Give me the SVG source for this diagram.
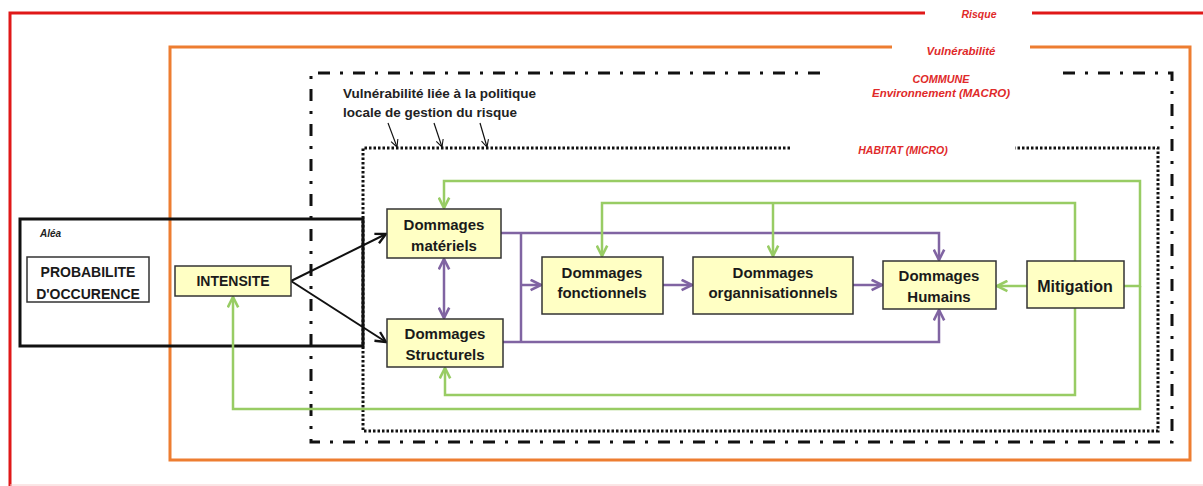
<svg xmlns="http://www.w3.org/2000/svg" width="1203" height="486" viewBox="0 0 1203 486">
<style>
.bx{fill:#ffffc4;stroke:#333;stroke-width:1.5}
.t{font-family:"Liberation Sans",Arial,sans-serif;font-weight:bold;fill:#1a1a1a;text-anchor:middle}
.lab{font-family:"Liberation Sans",Arial,sans-serif;font-weight:bold;font-style:italic;fill:#e02a2a;text-anchor:middle}
.pu{fill:none;stroke:#8064a2;stroke-width:2.5}
.gr{fill:none;stroke:#98cc64;stroke-width:2.5}
.bk{fill:none;stroke:#111;stroke-width:2}
</style>
<defs>
<marker id="ap" viewBox="0 0 10 10" refX="9" refY="5" markerWidth="13" markerHeight="13" markerUnits="userSpaceOnUse" orient="auto-start-reverse"><path d="M1,1 L9,5 L1,9" fill="none" stroke="#8064a2" stroke-width="2"/></marker>
<marker id="ag" viewBox="0 0 10 10" refX="9" refY="5" markerWidth="13" markerHeight="13" markerUnits="userSpaceOnUse" orient="auto"><path d="M1,1 L9,5 L1,9" fill="none" stroke="#98cc64" stroke-width="2"/></marker>
<marker id="ak" viewBox="0 0 10 10" refX="9" refY="5" markerWidth="13" markerHeight="13" markerUnits="userSpaceOnUse" orient="auto"><path d="M1,1 L9,5 L1,9" fill="none" stroke="#111" stroke-width="1.8"/></marker>
<marker id="as" viewBox="0 0 10 10" refX="9" refY="5" markerWidth="9" markerHeight="9" markerUnits="userSpaceOnUse" orient="auto"><path d="M1,1 L9,5 L1,9" fill="none" stroke="#111" stroke-width="1.2"/></marker>
</defs>
<rect width="1203" height="486" fill="#fff"/>
<g id="frames">
<path d="M925,13 H10 V486 M1032,13 H1203" fill="none" stroke="#e01818" stroke-width="3"/>
<line x1="10" y1="485" x2="1203" y2="485" stroke="#f6cccc" stroke-width="1"/>
<path d="M892,47 H170 V460 H1190 V47 H1030" fill="none" stroke="#ed7d31" stroke-width="3"/>
<path d="M820,73 H311 V442 H1172 V73 H1053" fill="none" stroke="#111" stroke-width="3" stroke-dasharray="12 10 3 10"/>
<path d="M790,148 H363 V431 H1158 V148 H1015" fill="none" stroke="#111" stroke-width="3" stroke-dasharray="2.5 2"/>
<rect x="20" y="219" width="343" height="127" fill="none" stroke="#111" stroke-width="3"/>
</g>
<g id="labels">
<text class="lab" x="979" y="18" font-size="10.5">Risque</text>
<text class="lab" x="961" y="55" font-size="11.5">Vulnérabilité</text>
<text class="lab" x="941" y="83" font-size="10.8">COMMUNE</text>
<text class="lab" x="941" y="97" font-size="11.5">Environnement (MACRO)</text>
<text class="lab" x="903" y="154" font-size="10.5">HABITAT  (MICRO)</text>
<text x="40" y="237" font-family="Liberation Sans,Arial,sans-serif" font-weight="bold" font-style="italic" font-size="10" fill="#222">Aléa</text>
<text x="343" y="98" font-family="Liberation Sans,Arial,sans-serif" font-weight="bold" font-size="13.5" fill="#222">Vulnérabilité liée à la politique</text>
<text x="343" y="117" font-family="Liberation Sans,Arial,sans-serif" font-weight="bold" font-size="13.5" fill="#222">locale de gestion du risque</text>
<line x1="388" y1="123" x2="397" y2="147" stroke="#111" stroke-width="1.2" marker-end="url(#as)"/>
<line x1="434" y1="123" x2="442" y2="147" stroke="#111" stroke-width="1.2" marker-end="url(#as)"/>
<line x1="480" y1="123" x2="487" y2="147" stroke="#111" stroke-width="1.2" marker-end="url(#as)"/>
</g>
<g id="connectors">
<line class="bk" x1="291" y1="281" x2="386" y2="234" marker-end="url(#ak)"/>
<line class="bk" x1="291" y1="281" x2="386" y2="342" marker-end="url(#ak)"/>
<path class="pu" d="M501,233 H939 V260" marker-end="url(#ap)"/>
<path class="pu" d="M503,342 H939 V310" marker-end="url(#ap)"/>
<path class="pu" d="M521,233 V342"/>
<path class="pu" d="M521,285 H541" marker-end="url(#ap)"/>
<path class="pu" d="M663,285 H692" marker-end="url(#ap)"/>
<path class="pu" d="M853,285 H882" marker-end="url(#ap)"/>
<path class="pu" d="M444,259 V318" marker-start="url(#ap)" marker-end="url(#ap)"/>
<path class="gr" d="M1027,286 H997" marker-end="url(#ag)"/>
<path class="gr" d="M1124,286 H1140 V181 H444 V208" marker-end="url(#ag)"/>
<path class="gr" d="M1140,286 V409 H233 V297" marker-end="url(#ag)"/>
<path class="gr" d="M1075,261 V203 H602 V256" marker-end="url(#ag)"/>
<path class="gr" d="M773,203 V256" marker-end="url(#ag)"/>
<path class="gr" d="M1075,308 V395 H445 V368" marker-end="url(#ag)"/>
</g>
<g id="proba">
<rect x="27" y="257" width="122" height="45" fill="#fff" stroke="#333" stroke-width="1.5"/>
<text class="t" x="88" y="277" font-size="14">PROBABILITE</text>
<text class="t" x="88" y="299" font-size="14">D'OCCURENCE</text>
</g>
<g id="intensite">
<rect class="bx" x="175" y="266" width="116" height="30"/>
<text class="t" x="233" y="286" font-size="14">INTENSITE</text>
</g>
<g id="materiels">
<rect class="bx" x="387" y="209" width="114" height="49"/>
<text class="t" x="444" y="230" font-size="15">Dommages</text>
<text class="t" x="444" y="251" font-size="15">matériels</text>
</g>
<g id="structurels">
<rect class="bx" x="387" y="319" width="116" height="48"/>
<text class="t" x="445" y="339" font-size="15">Dommages</text>
<text class="t" x="445" y="360" font-size="15">Structurels</text>
</g>
<g id="fonctionnels">
<rect class="bx" x="542" y="257" width="121" height="57"/>
<text class="t" x="602" y="278" font-size="15">Dommages</text>
<text class="t" x="602" y="298" font-size="15">fonctionnels</text>
</g>
<g id="organisationnels">
<rect class="bx" x="693" y="257" width="160" height="57"/>
<text class="t" x="773" y="278" font-size="15">Dommages</text>
<text class="t" x="773" y="298" font-size="15">organnisationnels</text>
</g>
<g id="humains">
<rect class="bx" x="883" y="261" width="113" height="48"/>
<text class="t" x="939" y="281" font-size="15">Dommages</text>
<text class="t" x="939" y="302" font-size="15">Humains</text>
</g>
<g id="mitigation">
<rect class="bx" x="1027" y="261" width="97" height="47"/>
<text class="t" x="1075" y="292" font-size="16">Mitigation</text>
</g>
</svg>
